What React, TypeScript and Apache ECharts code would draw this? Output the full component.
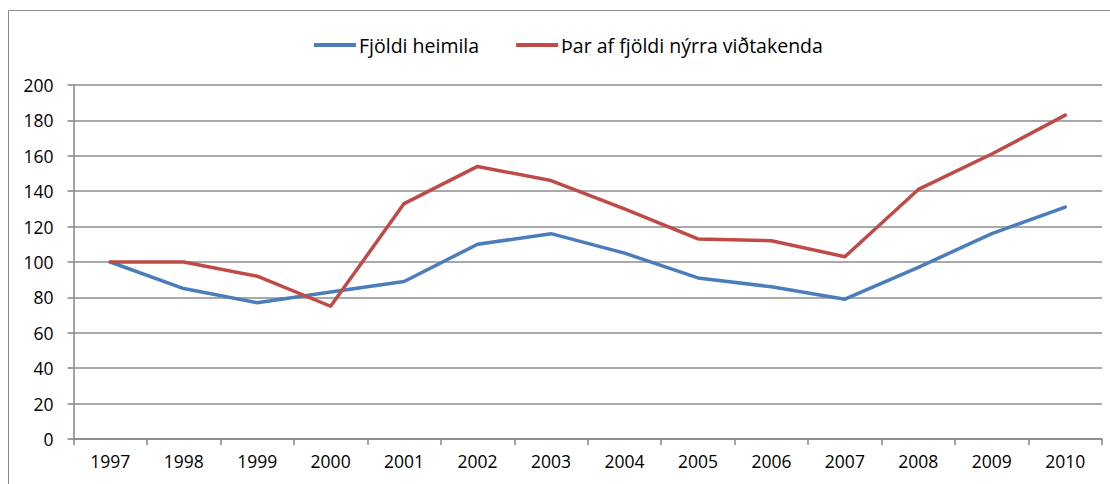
import React, { useEffect, useRef } from "react";
import * as echarts from "echarts";

const years = ["1997", "1998", "1999", "2000", "2001", "2002", "2003", "2004", "2005", "2006", "2007", "2008", "2009", "2010"];
const fjoldiHeimila = [100, 85, 77, 83, 89, 110, 116, 105, 91, 86, 79, 97, 116, 131];
const nyirVidtakendur = [100, 100, 92, 75, 133, 154, 146, 130, 113, 112, 103, 141, 161, 183];
const seriesNames = ["Fjöldi heimila", "Þar af fjöldi nýrra viðtakenda"];

const FONT = "'Open Sans', 'DejaVu Sans', sans-serif";
const AXIS_COLOR = "#868686";

export default function App() {
  const ref = useRef<HTMLDivElement>(null);
  useEffect(() => {
    if (!ref.current) return;
    const chart = echarts.init(ref.current, null, { renderer: "svg" });
    chart.setOption({
      animation: false,
      backgroundColor: "#ffffff",
      textStyle: { fontFamily: FONT },
      graphic: [
        {
          type: "rect",
          shape: { x: 8.5, y: 10.5, width: 1200, height: 600 },
          style: { fill: "none", stroke: "#888888", lineWidth: 1 },
          silent: true,
          z: -1,
        },
      ],
      legend: {
        top: 30,
        left: 309,
        itemWidth: 42,
        itemHeight: 4,
        itemGap: 37,
        icon: "rect",
        textStyle: { fontFamily: FONT, fontSize: 19.5, color: "#000", padding: [0, 0, 0, -2] },
        data: seriesNames,
      },
      grid: { left: 73.5, right: 8, top: 85, bottom: 45, containLabel: false },
      xAxis: {
        type: "category",
        data: years,
        boundaryGap: true,
        axisLine: { lineStyle: { color: AXIS_COLOR, width: 1.5 } },
        axisTick: { show: true, length: 6, lineStyle: { color: AXIS_COLOR, width: 1.5 } },
        axisLabel: { color: "#000", fontSize: 17.5, fontFamily: FONT, margin: 13 },
        splitLine: { show: false },
      },
      yAxis: {
        type: "value",
        min: 0,
        max: 200,
        interval: 20,
        axisLine: { show: true, lineStyle: { color: AXIS_COLOR, width: 1.5 } },
        axisTick: { show: true, length: 6, lineStyle: { color: AXIS_COLOR, width: 1.5 } },
        axisLabel: { color: "#000", fontSize: 17.5, fontFamily: FONT, margin: 20 },
        splitLine: { show: true, lineStyle: { color: "#8c8c8c", width: 1.5 } },
      },
      series: [
        {
          name: seriesNames[0],
          type: "line",
          data: fjoldiHeimila,
          symbol: "none",
          lineStyle: { color: "#4A7EBB", width: 3.5, cap: "round", join: "round" },
          itemStyle: { color: "#4A7EBB" },
        },
        {
          name: seriesNames[1],
          type: "line",
          data: nyirVidtakendur,
          symbol: "none",
          lineStyle: { color: "#BE4B48", width: 3.5, cap: "round", join: "round" },
          itemStyle: { color: "#BE4B48" },
        },
      ],
    });
    return () => chart.dispose();
  }, []);
  return (
    <div
      ref={ref}
      style={{ position: "absolute", left: 0, top: 0, width: 1110, height: 484 }}
    />
  );
}
